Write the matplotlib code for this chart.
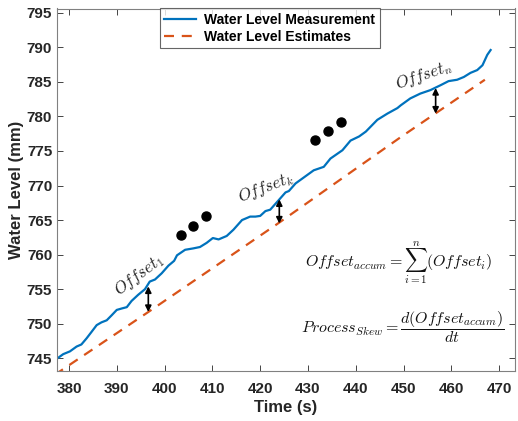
import matplotlib
matplotlib.use("Agg")
import matplotlib.pyplot as plt
import numpy as np

# Measured water level (blue)
meas_t = [377.6, 378.8, 380.2, 381.6, 382.6, 383.7, 384.7, 385.8, 386.8, 387.9,
          388.9, 390.0, 391.0, 392.1, 393.1, 394.5, 395.9, 396.9, 398.0, 399.4,
          400.8, 402.0, 402.6, 404.3, 406.0, 407.4, 408.8, 410.1, 411.3, 413.0,
          414.4, 416.2, 417.9, 419.0, 420.0, 421.1, 422.1, 423.9, 425.3, 426.0,
          427.4, 431.2, 433.3, 434.7, 437.2, 438.9, 440.7, 442.1, 444.5, 446.6,
          448.7, 449.4, 451.4, 453.5, 455.6, 457.7, 459.4, 461.2, 462.6, 464.0,
          465.4, 466.5, 467.5, 468.2]
meas_v = [745.0, 745.6, 746.0, 746.7, 747.0, 747.9, 748.8, 749.8, 750.2, 750.5,
          751.2, 752.0, 752.2, 752.4, 753.3, 754.2, 755.0, 756.1, 756.4, 757.3,
          758.4, 759.1, 759.9, 760.7, 760.9, 761.1, 761.7, 762.4, 762.2, 762.7,
          763.6, 765.0, 765.5, 765.5, 765.6, 766.3, 766.5, 767.9, 769.0, 769.2,
          770.3, 772.2, 772.7, 773.9, 775.1, 776.5, 777.1, 777.8, 779.5, 780.4,
          781.2, 781.6, 782.6, 783.3, 783.8, 784.5, 785.1, 785.3, 785.7, 786.3,
          786.7, 787.4, 788.9, 789.6]

# Estimated water level (orange dashed)
est_t = [377.0, 396.6, 423.5, 449.4, 467.0]
est_v = [742.6, 751.7, 764.4, 777.0, 785.3]

# Dots (ellipsis markers)
dot_t = [403.4, 406.0, 408.7, 431.4, 434.2, 436.8]
dot_v = [762.9, 764.1, 765.6, 776.6, 777.9, 779.2]

# Offset arrows: time, top (measurement), bottom (estimate)
arrow_t = [396.6, 424.0, 456.7]
arrow_top = [755.4, 768.0, 784.1]
arrow_bot = [751.7, 764.5, 780.4]

# Offset labels
lab_text = [r"$Offset_1$", r"$Offset_k$", r"$Offset_n$"]
lab_t = [394.7, 421.2, 454.3]
lab_v = [757.0, 769.7, 786.0]
lab_rot = [37, 21, 19]

# Formula annotations
eq_text = [r"$Offset_{accum} = \sum_{i=1}^{n}(Offset_i)$",
           r"$Process_{Skew} = \dfrac{d(Offset_{accum})}{dt}$"]
eq_t = [448.9, 449.7]
eq_v = [758.9, 749.5]

xticks = list(range(380, 471, 10))
yticks = list(range(745, 796, 5))

plt.rcParams['font.family'] = ['Liberation Sans', 'DejaVu Sans']
plt.rcParams['mathtext.fontset'] = 'cm'

fig = plt.figure(figsize=(5.18, 4.21), dpi=100)
top_px, bot_px = 8.5, 371.0
ax = fig.add_axes([57/518, 1 - bot_px/421, (515 - 57)/518, (bot_px - top_px)/421])

blue = '#0072BD'
orange = '#D95319'
ax.plot(meas_t, meas_v, color=blue, lw=1.6, label='Water Level Measurement')
ax.plot(est_t, est_v, color=orange, lw=1.6, linestyle=(0, (4.5, 3.5)),
        label='Water Level Estimates')
ax.plot(dot_t, dot_v, 'o', color='black', markersize=6.5, linestyle='none')

for t, a, b in zip(arrow_t, arrow_top, arrow_bot):
    ax.annotate('', xy=(t, b), xytext=(t, a),
                arrowprops=dict(arrowstyle='<|-|>', color='black', lw=1.2,
                                mutation_scale=9, shrinkA=0, shrinkB=0))

for s, t, v, r in zip(lab_text, lab_t, lab_v, lab_rot):
    ax.text(t, v, s, rotation=r, rotation_mode='anchor', ha='center', va='center',
            fontsize=12, color='#222222')

for s, t, v in zip(eq_text, eq_t, eq_v):
    ax.text(t, v, s, ha='center', va='center', fontsize=11.5, color='#111111')

ax.set_xlim(377.5, 473.3)
ax.set_ylim(745 - (bot_px - 358.3) / 6.912, 795 + (12.7 - top_px) / 6.912)
ax.set_xticks(xticks)
ax.set_yticks(yticks)
ax.tick_params(direction='in', length=4, width=0.6, top=True, right=True,
               labelsize=11, colors='#262626')
ax.tick_params(axis='y', pad=3.5)
ax.tick_params(axis='x', pad=8)
for lab in ax.get_xticklabels() + ax.get_yticklabels():
    lab.set_fontweight('bold')
for sp in ax.spines.values():
    sp.set_color('#808080')
    sp.set_linewidth(0.8)

ax.set_xlabel('Time (s)', fontsize=12, fontweight='bold', color='#262626', labelpad=3)
ax.set_ylabel('Water Level (mm)', fontsize=12, fontweight='bold', color='#262626', labelpad=2)

leg = ax.legend(loc='upper left', bbox_to_anchor=(0.225, 1.0), 
                prop={'weight': 'bold', 'size': 10}, frameon=True, fancybox=False,
                handlelength=2.3, borderpad=0.3, labelspacing=0.25, handletextpad=0.6,
                borderaxespad=0)
leg.get_frame().set_edgecolor('#404040')
leg.get_frame().set_linewidth(0.8)

fig.savefig('out.png', dpi=100)
